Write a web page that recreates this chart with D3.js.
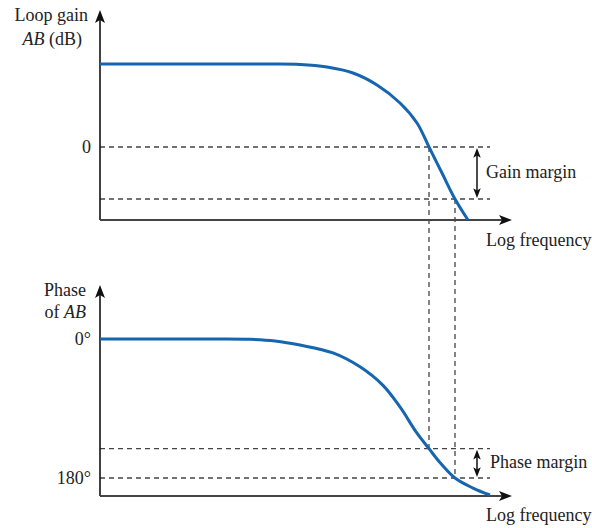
<!DOCTYPE html>
<html>
<head>
<meta charset="utf-8">
<script src="https://cdn.jsdelivr.net/npm/d3@7"></script>
</head>
<body style="margin:0; background:#fff">
<div id="Container"></div>
<script>
// log frequency (decades) and loop gain (dB)
var freqG = [0, 1, 1.7, 2.0, 2.27, 2.53, 2.77, 3.0, 3.17, 3.29, 3.42, 3.55, 3.68];
var gainDb = [41.5, 41.5, 41.5, 41.3, 40, 37, 31, 22, 12, 0, -13, -26, -36.5];
// log frequency and phase of AB (degrees of lag)
var freqP = [0, 1, 1.5, 1.75, 2.0, 2.33, 2.6, 2.83, 3.0, 3.17, 3.29, 3.40, 3.55, 3.73, 3.90];
var phaseDeg = [0, 0, 0.3, 2.5, 7.8, 18, 36, 60, 88, 122, 142, 160, 180, 193, 202];
// tick labels
var gainTicks = [{ v: 0, t: "0" }];
var phaseTicks = [{ v: 0, t: "0°" }, { v: 180, t: "180°" }];
// crossover points
var fGainX = 3.29, fPhaseX = 3.55;
var gainMargin = -26, phaseAtGainX = 142;

var W = 592, H = 528;
var blue = "#1565b0";
var serifFont = "Liberation Serif";

var canvas = d3.select("#Container").append("svg")
    .attr("width", W)
    .attr("height", H);

var x = d3.scaleLinear().domain([0, 4.12]).range([100, 512]);
var yG = d3.scaleLinear().domain([-36.5, 68.5]).range([220, 10]);
var yP = d3.scaleLinear().domain([-70, 203.3]).range([285, 496]);

function arrowHead(px, py, ang, sz) {
    sz = sz || 1;
    canvas.append("path")
        .attr("d", "M0,0 L" + (5 * sz) + "," + (13 * sz) + " L0," + (10 * sz) + " L" + (-5 * sz) + "," + (13 * sz) + " Z")
        .attr("transform", "translate(" + px + "," + py + ")rotate(" + ang + ")")
        .attr("fill", "#111");
}

function dashed(x1, y1, x2, y2) {
    canvas.append("line")
        .attr("x1", x1).attr("y1", y1)
        .attr("x2", x2).attr("y2", y2)
        .attr("stroke", "#444")
        .attr("stroke-width", 1.3)
        .attr("stroke-dasharray", "5,4");
}

function dblArrow(px, y1, y2) {
    canvas.append("line")
        .attr("x1", px).attr("y1", y1 + 4)
        .attr("x2", px).attr("y2", y2 - 4)
        .attr("stroke", "#111")
        .attr("stroke-width", 1.5);
    arrowHead(px, y1 + 1, 0, 0.75);
    arrowHead(px, y2 - 1, 180, 0.75);
}

function label(px, py, anchor) {
    return canvas.append("text")
        .attr("x", px).attr("y", py)
        .attr("text-anchor", anchor || "start")
        .attr("font-family", serifFont)
        .attr("font-size", 18)
        .attr("fill", "#222");
}

// dashed guide lines
dashed(x(0), yG(0), x(3.9), yG(0));
dashed(x(0), yG(gainMargin), x(3.9), yG(gainMargin));
dashed(x(0), yP(phaseAtGainX), x(3.9), yP(phaseAtGainX));
dashed(x(0), yP(180), x(3.9), yP(180));
dashed(x(fGainX), yG(0), x(fGainX), yP(phaseAtGainX));
dashed(x(fPhaseX), yG(gainMargin), x(fPhaseX), yP(180));

// axes
function axes(yS, top, bottom) {
    canvas.append("line")
        .attr("x1", x(0)).attr("y1", yS(bottom))
        .attr("x2", x(0)).attr("y2", yS(top) + 6)
        .attr("stroke", "#111").attr("stroke-width", 1.6);
    canvas.append("line")
        .attr("x1", x(0)).attr("y1", yS(bottom))
        .attr("x2", x(4.12) - 6).attr("y2", yS(bottom))
        .attr("stroke", "#444").attr("stroke-width", 2);
    arrowHead(x(0), yS(top), 0);
    arrowHead(x(4.12), yS(bottom), 90);
}
axes(yG, 68.5, -36.5);
axes(yP, -70, 203.3);

// curves
var lineG = d3.line()
    .x(function (d, i) { return x(freqG[i]); })
    .y(function (d) { return yG(d); })
    .curve(d3.curveCatmullRom.alpha(0.5));
var lineP = d3.line()
    .x(function (d, i) { return x(freqP[i]); })
    .y(function (d) { return yP(d); })
    .curve(d3.curveCatmullRom.alpha(0.5));

canvas.append("path")
    .attr("d", lineG(gainDb))
    .attr("fill", "none")
    .attr("stroke", blue)
    .attr("stroke-width", 3);
canvas.append("path")
    .attr("d", lineP(phaseDeg))
    .attr("fill", "none")
    .attr("stroke", blue)
    .attr("stroke-width", 3);

// margin arrows
dblArrow(x(3.77), yG(0), yG(gainMargin));
dblArrow(x(3.77), yP(phaseAtGainX), yP(180));

// tick labels
gainTicks.forEach(function (d) { label(91, yG(d.v) + 6, "end").text(d.t); });
phaseTicks.forEach(function (d) { label(91, yP(d.v) + 6, "end").text(d.t); });

// axis titles
label(88, 21, "end").text("Loop gain");
var t2 = label(82, 45, "end");
t2.append("tspan").attr("font-style", "italic").text("AB");
t2.append("tspan").text(" (dB)");

label(86, 296, "end").text("Phase");
var t4 = label(86, 318, "end");
t4.append("tspan").text("of ");
t4.append("tspan").attr("font-style", "italic").text("AB");

label(486, 246).text("Log frequency");
label(486, 521).text("Log frequency");
label(486, 178).text("Gain margin");
label(490, 468).text("Phase margin");
</script>
</body>
</html>
